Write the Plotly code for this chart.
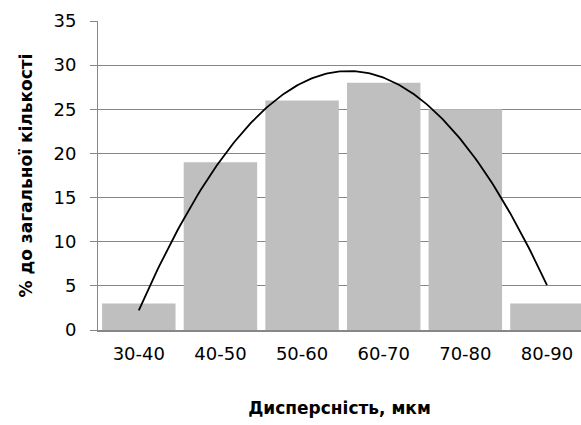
import numpy as np
import plotly.graph_objects as go

categories = ["30-40", "40-50", "50-60", "60-70", "70-80", "80-90"]
percent = [3, 19, 26, 28, 25, 3]
y_ticks = [0, 5, 10, 15, 20, 25, 30, 35]

x_idx = np.arange(len(categories))
# Polynomial (2nd order) trendline through the bar values
coef = np.polyfit(x_idx, percent, 2)
xs = np.linspace(x_idx[0], x_idx[-1], 200)
ys = np.polyval(coef, xs)

GRID = "#878787"

fig = go.Figure()
fig.add_trace(go.Bar(x=x_idx, y=percent, marker=dict(color="#BFBFBF", line=dict(width=0)),
                     showlegend=False, hoverinfo="skip"))
fig.add_trace(go.Scatter(x=xs, y=ys, mode="lines", line=dict(color="#000000", width=1.8),
                         showlegend=False, hoverinfo="skip"))

fig.update_layout(
    width=581, height=425,
    margin=dict(l=98, r=0, t=21, b=95),
    paper_bgcolor="white", plot_bgcolor="white",
    bargap=0.1,
    font=dict(family="DejaVu Sans", size=17, color="#000000"),
    xaxis=dict(
        range=[-0.5, 5.417],
        tickmode="array", tickvals=list(x_idx), ticktext=categories,
        showgrid=False, zeroline=False,
        showline=True, linecolor=GRID, linewidth=2,
        ticks="", ticklabelstandoff=6,
        tickfont=dict(family="DejaVu Sans", size=18),
        title=dict(text="<b>Дисперсність, мкм</b>", standoff=40,
                   font=dict(family="DejaVu Sans", size=17)),
    ),
    yaxis=dict(
        range=[0, 35],
        tickmode="array", tickvals=y_ticks,
        showgrid=True, gridcolor=GRID, gridwidth=1,
        zeroline=False,
        showline=True, linecolor=GRID, linewidth=1,
        ticks="outside", ticklen=7, tickcolor=GRID, tickwidth=1,
        ticklabelstandoff=10,
        tickfont=dict(family="DejaVu Sans", size=18),
        title=dict(text="<b>% до загальної кількості</b>", standoff=16,
                   font=dict(family="DejaVu Sans", size=17)),
    ),
)

fig.write_html(
    "out.html",
    config={"displayModeBar": False},
    post_script="document.body.style.margin='0';document.body.style.overflow='hidden';",
)
